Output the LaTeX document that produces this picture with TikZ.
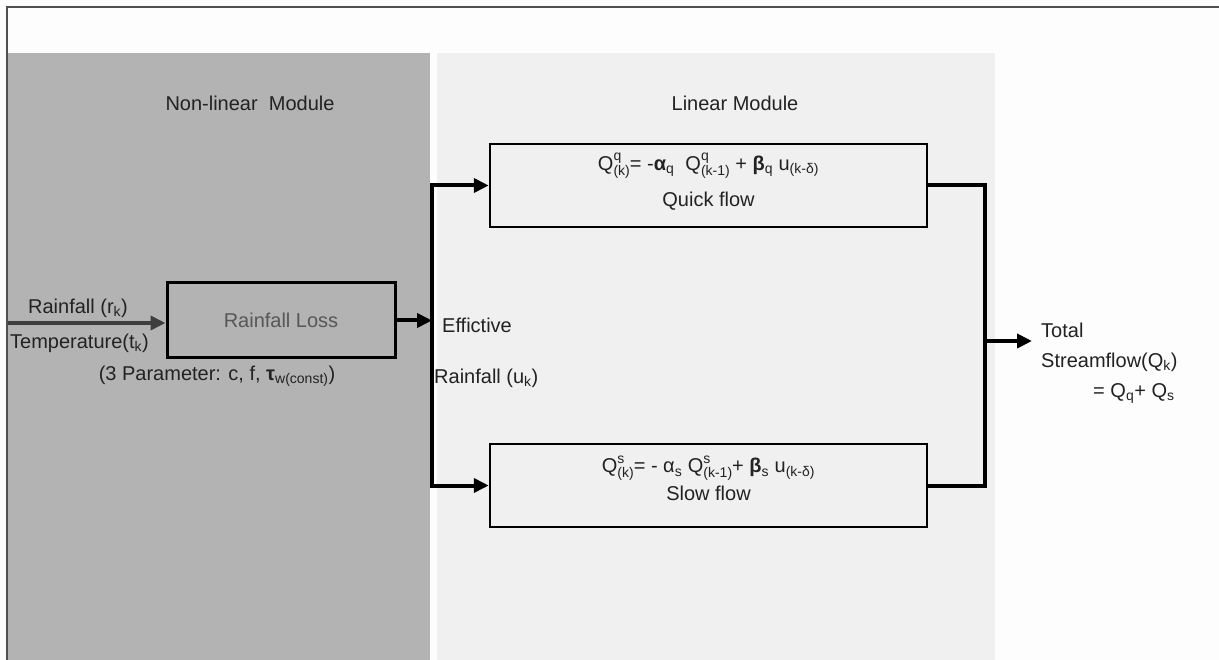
\documentclass[tikz,border=0pt]{standalone}
\usepackage{fontspec}
\setmainfont{Liberation Sans}
\usetikzlibrary{positioning,arrows.meta}
\definecolor{mDark}{RGB}{179,179,179}
\definecolor{mLight}{RGB}{240,240,240}
\definecolor{mPaper}{RGB}{253,253,253}
\definecolor{mFrame}{RGB}{80,80,80}
\definecolor{mText}{RGB}{34,34,34}
\definecolor{mIn}{RGB}{62,62,62}
\newcommand{\lblfont}{\fontsize{20}{30}\selectfont}
\newcommand{\idxfont}{\fontsize{14}{14}\selectfont}
\newcommand{\SupSub}[2]{%
  \rlap{\raisebox{9.5pt}{\idxfont #1}}\raisebox{-5pt}{\idxfont #2}}
\tikzset{
  blk/.style={rectangle, draw=black, line width=2.5pt, fill=mLight,
              minimum width=437pt, minimum height=83pt, inner sep=0pt},
  lossblk/.style={blk, fill=mDark, line width=3pt, minimum width=228pt,
                  minimum height=75pt, font=\lblfont, text=black!66},
  lbl/.style={font=\lblfont, text=mText, inner sep=1pt, align=left},
  eqn/.style={lbl, align=center},
  flow/.style={-{Triangle[length=15pt,width=14pt]}, draw=black, line width=4pt},
  bus/.style={draw=black, line width=4pt},
  infl/.style={-{Triangle[length=15pt,width=14pt]}, draw=mIn, line width=4pt},
}
\begin{document}
\begin{tikzpicture}[x=1pt, y=-1pt, node distance=6pt]

  % ===== Canvas and module panels ======================================
  \useasboundingbox (0,0) rectangle (1219,660);
  \fill[mPaper] (0,0) rectangle (1219,660);
  \fill[mDark] (8,53) rectangle (430,660);
  \fill[mLight] (437,53) rectangle (995,660);

  \node[lbl] (nlmod) at (250,103) {Non-linear\ \ Module};
  \node[lbl] (lmod) at (735,103) {Linear Module};

  % ===== Non-linear part ===============================================
  \node[lossblk] (loss) at (281,320.5) {Rainfall Loss};
  \coordinate (in) at (8,323);
  \draw[infl] (in) -- (in -| loss.west);
  \node[lbl] (rain) at (78,308) {Rainfall (r\textsubscript{k})};
  \node[lbl, anchor=east] (temp) at (150,343) {Temperature(t\textsubscript{k})};
  \node[lbl, below=5pt of loss, xshift=-64pt] (par)
       {(3 Parameter: c, f, \textbf{τ}\textsubscript{w(const)})};

  % ===== Linear part ===================================================
  \node[blk] (quick) at (708.5,185.5) {};
  \node[eqn] (qeq) at ([yshift=4pt]quick.center)
       {Q\SupSub{q}{(k)}= -\textbf{α}\textsubscript{q}\ \ Q\SupSub{q}{(k-1)} +
        \textbf{β}\textsubscript{q} u\textsubscript{(k-δ)}\\[6pt] Quick flow};
  \node[blk] (slow) at (708.5,485.5) {};
  \node[eqn] (seq) at ([yshift=7pt]slow.center)
       {Q\SupSub{s}{(k)}= - α\textsubscript{s} Q\SupSub{s}{(k-1)}+
        \textbf{β}\textsubscript{s} u\textsubscript{(k-δ)}\\[-2pt] Slow flow};

  % split of the effective rainfall
  \coordinate (split) at (432,320.5);
  \draw[flow] (loss.east) -- (split);
  \draw[flow] (split) |- (quick.west);
  \draw[flow] (split) |- (slow.west);
  \node[lbl, anchor=west] (eff) at (441,325) {Effictive};
  \node[lbl, anchor=west] (effr) at (433,378) {Rainfall (u\textsubscript{k})};

  % merge into total streamflow
  \coordinate (merge) at (985,341);
  \coordinate (tot) at (1032,341);
  \draw[bus] (quick.east) -| (merge) |- (slow.east);
  \draw[flow] (merge) -- (tot);
  \node[lbl, anchor=west] (total) at (1040,363)
       {Total\\Streamflow(Q\textsubscript{k})\\
        \hspace*{52pt}= Q\textsubscript{q}+ Q\textsubscript{s}};

  % ===== Frame =========================================================
  \draw[mFrame, line width=2pt] (7,660) -- (7,7) -- (1219,7);

\end{tikzpicture}
\end{document}
